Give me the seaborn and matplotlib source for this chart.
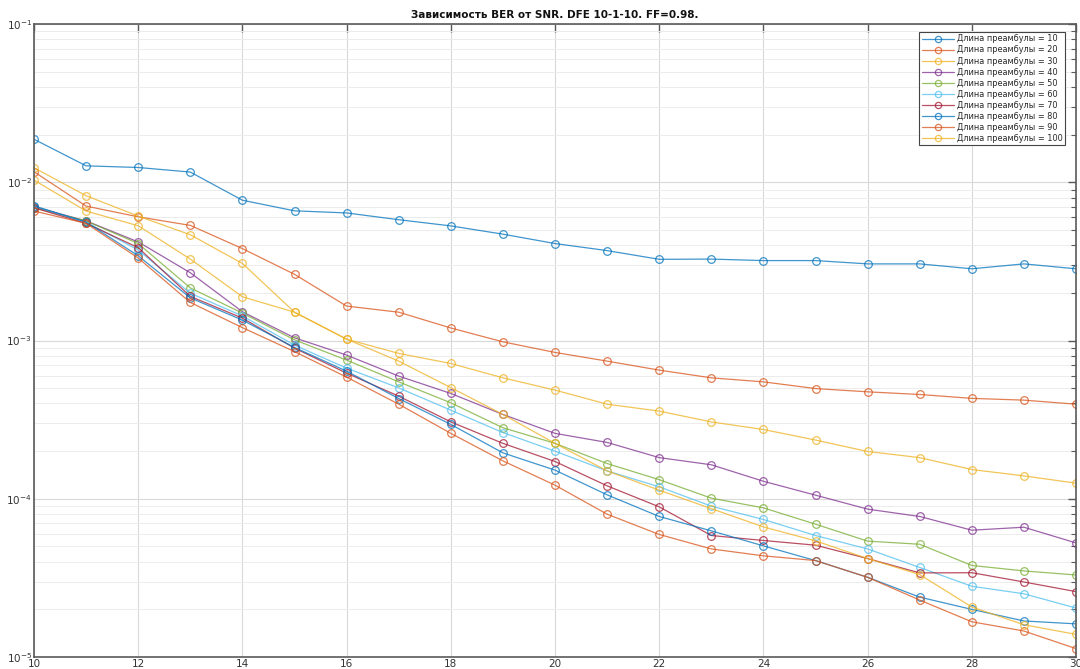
import numpy as np
import pandas as pd
import matplotlib
matplotlib.use("Agg")
import matplotlib.pyplot as plt
import seaborn as sns
from matplotlib.ticker import LogLocator, NullFormatter

snr = list(range(10, 31))

ber_10 = [0.0187, 0.0127, 0.0124, 0.0116, 0.0077, 0.0066, 0.0064, 0.0058, 0.0053, 0.0047, 0.0041,
          0.0037, 0.00326, 0.00327, 0.0032, 0.0032, 0.00305, 0.00305, 0.00284, 0.00305, 0.00284]
ber_20 = [0.01165, 0.00707, 0.00605, 0.00534, 0.00381, 0.00262, 0.00165, 0.00151, 0.00120, 0.000981, 0.000841,
          0.000741, 0.000650, 0.000581, 0.000548, 0.000497, 0.000474, 0.000456, 0.000431, 0.000420, 0.000396]
ber_30 = [0.01235, 0.00822, 0.00611, 0.00466, 0.00307, 0.00151, 0.00102, 0.000829, 0.000716, 0.000581, 0.000486,
          0.000396, 0.000358, 0.000306, 0.000274, 0.000235, 0.000199, 0.000182, 0.000153, 0.0001395, 0.0001255]
ber_40 = [0.0070, 0.0057, 0.0042, 0.00268, 0.00152, 0.00104, 0.000809, 0.000596, 0.000463, 0.000341, 0.000259,
          0.000227, 0.000182, 0.000164, 0.000129, 0.0001054, 8.60e-5, 7.73e-5, 6.33e-5, 6.61e-5, 5.26e-5]
ber_50 = [0.0069, 0.0057, 0.0041, 0.00215, 0.00149, 0.00101, 0.000752, 0.000548, 0.000404, 0.000281, 0.000224,
          0.000167, 0.000132, 0.0001009, 8.76e-5, 6.91e-5, 5.40e-5, 5.16e-5, 3.79e-5, 3.50e-5, 3.30e-5]
ber_60 = [0.0070, 0.0056, 0.00373, 0.00199, 0.00143, 0.000935, 0.000669, 0.000502, 0.000363, 0.000262, 0.000200,
          0.000150, 0.000119, 8.98e-5, 7.40e-5, 5.86e-5, 4.82e-5, 3.68e-5, 2.80e-5, 2.51e-5, 2.04e-5]
ber_70 = [0.0069, 0.0055, 0.00386, 0.00190, 0.001385, 0.000895, 0.000622, 0.000445, 0.000306, 0.000224, 0.000172,
          0.0001207, 8.89e-5, 5.86e-5, 5.45e-5, 5.09e-5, 4.19e-5, 3.40e-5, 3.41e-5, 2.98e-5, 2.59e-5]
ber_80 = [0.0071, 0.0056, 0.00343, 0.00186, 0.001346, 0.000904, 0.00064, 0.00043, 0.000295, 0.000195, 0.0001517,
          0.0001059, 7.73e-5, 6.27e-5, 5.04e-5, 4.07e-5, 3.19e-5, 2.39e-5, 2.00e-5, 1.69e-5, 1.62e-5]
ber_90 = [0.00658, 0.0055, 0.00332, 0.00174, 0.001206, 0.000851, 0.000587, 0.000396, 0.000259, 0.0001736, 0.0001219,
          7.99e-5, 5.95e-5, 4.82e-5, 4.36e-5, 4.07e-5, 3.19e-5, 2.29e-5, 1.67e-5, 1.46e-5, 1.13e-5]
ber_100 = [0.01032, 0.00658, 0.00531, 0.00327, 0.00189, 0.00151, 0.00102, 0.000741, 0.000504, 0.000341, 0.000224,
           0.000150, 0.0001133, 8.66e-5, 6.64e-5, 5.42e-5, 4.19e-5, 3.32e-5, 2.07e-5, 1.60e-5, 1.39e-5]

preamble_lengths = [10, 20, 30, 40, 50, 60, 70, 80, 90, 100]
series = [ber_10, ber_20, ber_30, ber_40, ber_50, ber_60, ber_70, ber_80, ber_90, ber_100]
labels = [f"Длина преамбулы = {n}" for n in preamble_lengths]

title = "Зависимость BER от SNR. DFE 10-1-10. FF=0.98."
x_ticks = list(range(10, 31, 2))

colors = ["#0072BD", "#D95319", "#EDB120", "#7E2F8E", "#77AC30",
          "#4DBEEE", "#A2142F", "#0072BD", "#D95319", "#EDB120"]

sns.set_theme(style="white")
plt.rcParams['font.family'] = ['DejaVu Sans']

fig = plt.figure(figsize=(10.8, 6.69), dpi=100)
ax = fig.add_axes([0.0315, 0.0179, 0.9648, 0.9462])

for vals, lab, c in zip(series, labels, colors):
    df = pd.DataFrame({"SNR": snr, "BER": vals})
    sns.lineplot(data=df, x="SNR", y="BER", ax=ax, color=c, label=lab,
                 marker="o", markersize=5.5, markerfacecolor="none",
                 markeredgecolor=c, markeredgewidth=0.9, linewidth=0.9,
                 alpha=0.75, errorbar=None)

ax.set_yscale("log")
ax.set_xlim(10, 30)
ax.set_ylim(1e-5, 1e-1)
ax.set_xticks(x_ticks)
ax.set_xticklabels([str(t) for t in x_ticks])
ax.yaxis.set_major_locator(LogLocator(base=10, numticks=10))
ax.yaxis.set_minor_locator(LogLocator(base=10, subs=np.arange(2, 10), numticks=100))
ax.yaxis.set_minor_formatter(NullFormatter())
ax.set_xlabel("")
ax.set_ylabel("")

ax.grid(True, which="major", axis="both", color="#d9d9d9", linewidth=0.8)
ax.grid(True, which="minor", axis="y", color="#ececec", linewidth=0.7)
ax.set_axisbelow(True)

for sp in ax.spines.values():
    sp.set_visible(True)
    sp.set_color("#5a5a5a")
    sp.set_linewidth(1.2)

ax.tick_params(axis="both", which="both", direction="in", top=True, right=True,
               colors="#5a5a5a", labelcolor="#333333", labelsize=7.5, pad=1.5)
ax.tick_params(axis="both", which="major", length=6, width=1.0)
ax.tick_params(axis="y", which="minor", length=3.5, width=0.8)

ax.set_title(title, fontsize=7.5, fontweight="bold", pad=4, color="#111111")

leg = ax.legend(loc="upper right", bbox_to_anchor=(0.9894, 0.9874), fontsize=5.9,
                frameon=True, fancybox=False, framealpha=1, edgecolor="#444444",
                handlelength=3.9, handletextpad=0.35, labelspacing=0.25,
                borderpad=0.3, borderaxespad=0.0)
leg.get_frame().set_linewidth(0.8)
for h in leg.get_lines():
    h.set_markersize(4.5)

fig.savefig("out.png", dpi=100)
